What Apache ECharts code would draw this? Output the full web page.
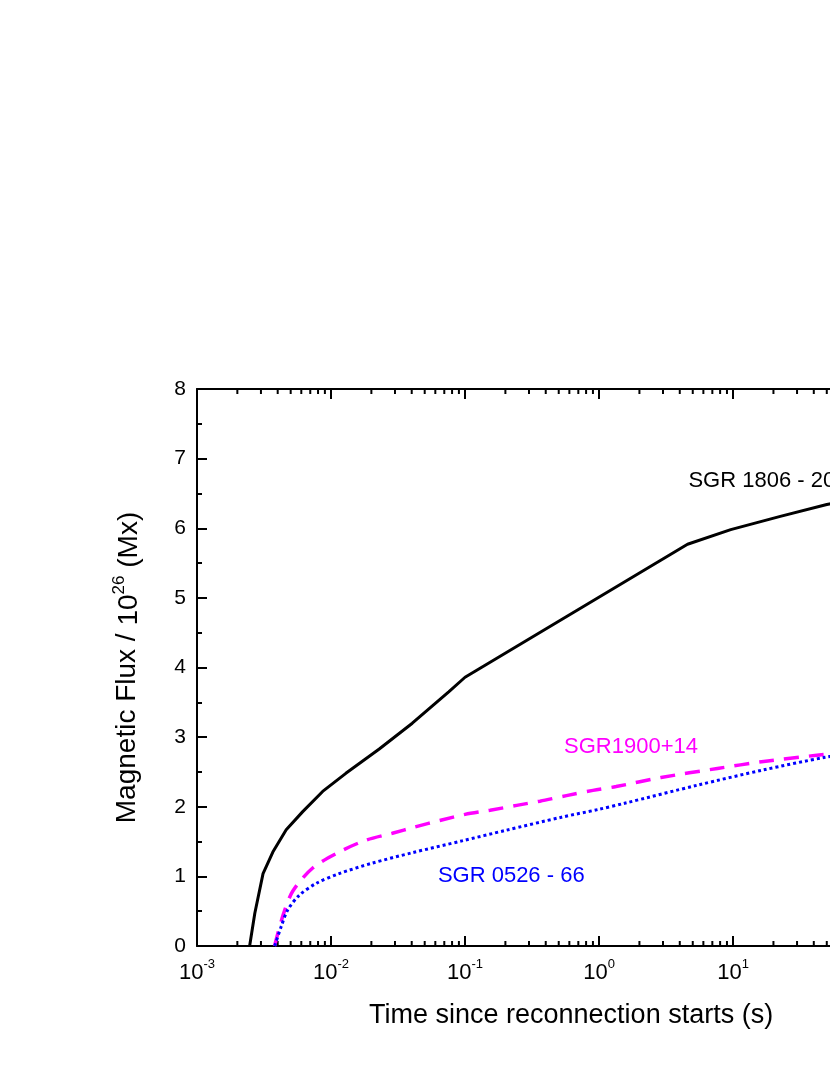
<!DOCTYPE html>
<html>
<head>
<meta charset="utf-8">
<script src="https://cdn.jsdelivr.net/npm/echarts@6/dist/echarts.min.js"></script>
<style>
  html, body { margin: 0; padding: 0; background: #fff; overflow: hidden; }
  /* the plot frame runs past the right edge of the 830px page, as in the original */
  #main { width: 1020px; height: 1075px; }
</style>
</head>
<body>
<div id="main"></div>
<script>
// time (s) and flux (10^26 Mx)
const tBlack = [0.00247, 0.0027, 0.00311, 0.00368, 0.00463, 0.00615, 0.00866, 0.0129, 0.0229, 0.0404, 0.0755, 0.1, 4.57, 9.6, 22.5, 50, 100];
const fBlack = [0, 0.47, 1.04, 1.35, 1.67, 1.93, 2.22, 2.48, 2.83, 3.2, 3.65, 3.86, 5.77, 5.98, 6.17, 6.34, 6.45];

const tPink = [0.00379, 0.0044, 0.00519, 0.0073, 0.0115, 0.0182, 0.0287, 0.0424, 0.067, 0.1, 0.154, 0.243, 0.362, 0.571, 0.9, 1.34, 2.9, 7.64, 16.9, 42.2, 100];
const fPink = [0, 0.45, 0.79, 1.12, 1.35, 1.52, 1.62, 1.71, 1.81, 1.89, 1.95, 2.02, 2.08, 2.16, 2.235, 2.29, 2.42, 2.55, 2.65, 2.74, 2.82];

const tBlue = [0.0038, 0.00425, 0.00476, 0.0058, 0.00776, 0.0115, 0.0203, 0.0404, 0.095, 0.2, 0.525, 0.98, 1.55, 5.42, 16.9, 48.6, 100];
const fBlue = [0, 0.28, 0.52, 0.73, 0.9, 1.04, 1.19, 1.34, 1.51, 1.66, 1.85, 1.96, 2.05, 2.31, 2.53, 2.71, 2.8];

// curve labels: anchor (left edge, vertical centre) in data units
const labelText = ['SGR 1806 - 20', 'SGR1900+14', 'SGR 0526 - 66'];
const labelT = [4.64, 0.548, 0.0627];
const labelF = [6.68, 2.86, 1.005];
const labelColor = ['#000000', '#ff00ff', '#0000ff'];

// log-axis minor ticks: 2..9 in every decade
const decades = [0.001, 0.01, 0.1, 1, 10, 100];
const minorSteps = [2, 3, 4, 5, 6, 7, 8, 9];

const FONT = 'Liberation Sans';

function pairs(xs, ys) {
  return xs.map((x, i) => [x, ys[i]]);
}

const minorTicks = [];
decades.forEach(d => minorSteps.forEach(m => minorTicks.push([d * m])));

const chart = echarts.init(document.getElementById('main'));

const option = {
  backgroundColor: '#ffffff',
  animation: false,
  textStyle: { fontFamily: FONT },
  grid: { left: 197, top: 389, bottom: 129, width: 808 },
  xAxis: [
    {
      type: 'log',
      logBase: 10,
      min: 0.001,
      max: 1000,
      splitNumber: 6,
      name: 'Time since reconnection starts (s)',
      nameLocation: 'middle',
      nameGap: 56,
      nameTextStyle: { fontSize: 27, color: '#000', fontFamily: FONT, padding: [0, 56, 0, 0] },
      axisLine: { lineStyle: { color: '#000', width: 2 } },
      axisTick: { inside: true, length: 10, lineStyle: { color: '#000', width: 2 } },
      splitLine: { show: false },
      axisLabel: {
        margin: 12,
        formatter: v => '{b|10}{s|' + Math.round(Math.log10(v)) + '}',
        rich: {
          b: { fontSize: 22, color: '#000', fontFamily: FONT, lineHeight: 26, verticalAlign: 'bottom' },
          s: { fontSize: 13, color: '#000', fontFamily: FONT, lineHeight: 26, verticalAlign: 'top' }
        }
      }
    },
    {
      type: 'log',
      logBase: 10,
      min: 0.001,
      max: 1000,
      splitNumber: 6,
      position: 'top',
      axisLine: { lineStyle: { color: '#000', width: 2 } },
      axisTick: { inside: true, length: 10, lineStyle: { color: '#000', width: 2 } },
      axisLabel: { show: false },
      splitLine: { show: false }
    }
  ],
  yAxis: {
    type: 'value',
    min: 0,
    max: 8,
    interval: 1,
    name: 'Magnetic Flux / {s|10}{u|26}{s| (Mx)}',
    nameLocation: 'middle',
    nameGap: 54,
    nameTextStyle: {
      color: '#000',
      rich: {
        s: { fontSize: 28, color: '#000', fontFamily: FONT, lineHeight: 32, verticalAlign: 'bottom' },
        u: { fontSize: 17, color: '#000', fontFamily: FONT, lineHeight: 32, verticalAlign: 'top' }
      },
      fontSize: 28,
      fontFamily: FONT
    },
    axisLine: { show: true, lineStyle: { color: '#000', width: 2 } },
    axisTick: { show: true, inside: true, length: 10, lineStyle: { color: '#000', width: 2 } },
    minorTick: { show: true, splitNumber: 2, length: 5, lineStyle: { color: '#000', width: 2 } },
    splitLine: { show: false },
    minorSplitLine: { show: false },
    axisLabel: { margin: 11, fontSize: 21, color: '#000', fontFamily: FONT }
  },
  series: [
    {
      name: 'minor ticks',
      type: 'custom',
      silent: true,
      clip: false,
      data: minorTicks,
      renderItem: (params, api) => {
        const b = api.coord([api.value(0), 0]);
        const t = api.coord([api.value(0), 8]);
        const style = { stroke: '#000', lineWidth: 2 };
        return {
          type: 'group',
          children: [
            { type: 'line', shape: { x1: b[0], y1: b[1], x2: b[0], y2: b[1] - 5 }, style },
            { type: 'line', shape: { x1: t[0], y1: t[1], x2: t[0], y2: t[1] + 5 }, style }
          ]
        };
      }
    },
    {
      name: 'SGR 1806 - 20',
      type: 'line',
      data: pairs(tBlack, fBlack),
      showSymbol: false,
      lineStyle: { color: '#000', width: 3 }
    },
    {
      name: 'SGR1900+14',
      type: 'line',
      data: pairs(tPink, fPink),
      showSymbol: false,
      smooth: 0.3,
      lineStyle: { color: '#ff00ff', width: 3.5, type: [15, 10] }
    },
    {
      name: 'SGR 0526 - 66',
      type: 'line',
      data: pairs(tBlue, fBlue),
      showSymbol: false,
      smooth: 0.3,
      lineStyle: { color: '#0000ff', width: 3, type: [3, 3] }
    },
    {
      name: 'labels',
      type: 'scatter',
      symbolSize: 0,
      silent: true,
      itemStyle: { opacity: 1 },
      data: labelText.map((s, i) => ({
        value: [labelT[i], labelF[i]],
        label: {
          show: true,
          position: 'right',
          distance: 0,
          formatter: s,
          fontSize: 22,
          fontFamily: FONT,
          color: labelColor[i],
          opacity: 1
        }
      }))
    }
  ]
};

chart.setOption(option);
</script>
</body>
</html>
